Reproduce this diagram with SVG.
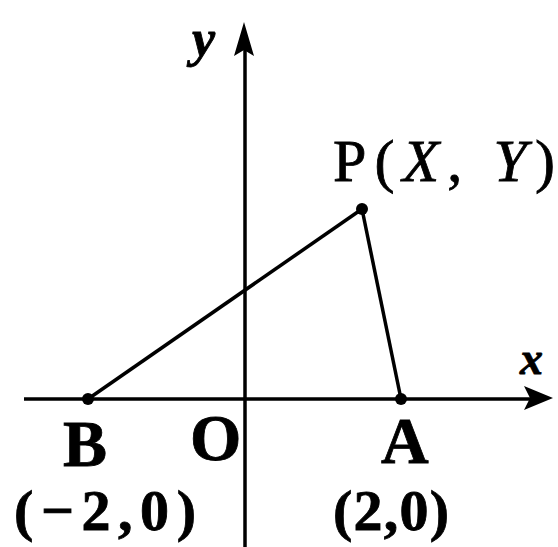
<svg xmlns="http://www.w3.org/2000/svg" width="558" height="547" viewBox="0 0 558 547">
<style>
.ax{stroke:#000;stroke-width:3.5;fill:none}
.seg{stroke:#000;stroke-width:3.5;fill:none}
.t{font-family:"Liberation Serif","Times New Roman",serif;fill:#000;stroke:#000;stroke-width:0.8}
.b{font-weight:bold}
</style>
<rect width="558" height="547" fill="#fff"/>
<g id="axes">
<line class="ax" x1="24" y1="399" x2="530" y2="399"/>
<path d="M553,398 L524,386 L530,398 L524,410 Z" fill="#000"/>
<line class="ax" x1="245" y1="547" x2="245" y2="48"/>
<path d="M244,22 L234,56 L244,50 L254,56 Z" fill="#000"/>
<text class="t b" x="192" y="56" font-size="52" font-style="italic">y</text>
<text class="t b" x="520" y="374" font-size="46" font-style="italic">x</text>
</g>
<g id="connectors">
<line class="seg" x1="88" y1="399" x2="362" y2="209"/>
<line class="seg" x1="362" y1="209" x2="401" y2="399"/>
</g>
<g id="P">
<circle cx="362" cy="209" r="6" fill="#000"/>
<text class="t" x="333" y="181" font-size="60" textLength="222" lengthAdjust="spacing">P(<tspan font-style="italic">X</tspan>, <tspan font-style="italic">Y</tspan>)</text>
</g>
<g id="B">
<circle cx="88" cy="399" r="6" fill="#000"/>
<text class="t b" x="63" y="466" font-size="66">B</text>
<text class="t b" x="14" y="530" font-size="58" textLength="182" lengthAdjust="spacing">(−2,0)</text>
</g>
<g id="O">
<text class="t b" x="190" y="460" font-size="66">O</text>
</g>
<g id="A">
<circle cx="401" cy="399" r="6" fill="#000"/>
<text class="t b" x="381" y="463" font-size="66">A</text>
<text class="t b" x="333" y="530" font-size="58" textLength="116" lengthAdjust="spacing">(2,0)</text>
</g>
</svg>
